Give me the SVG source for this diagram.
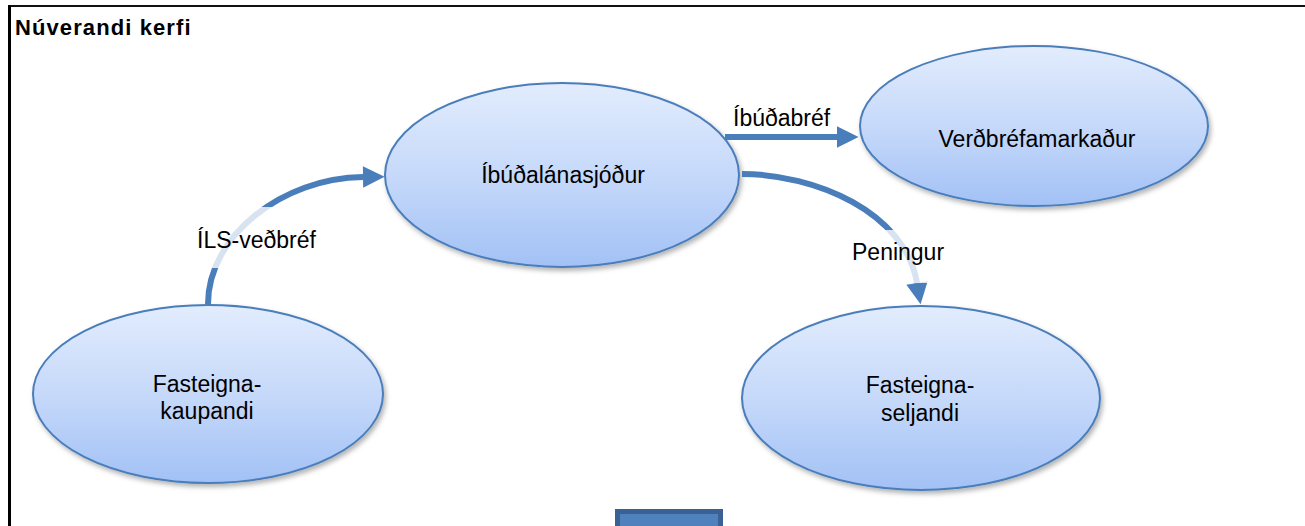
<svg xmlns="http://www.w3.org/2000/svg" width="1305" height="526" viewBox="0 0 1305 526">
  <style>
    .node { fill: url(#nodeGrad); stroke: #4a7ebb; stroke-width: 2; filter: url(#shadow); }
    .label { font-family: "Liberation Sans", Arial, sans-serif; font-size: 23px; fill: #000; text-anchor: middle; }
    .elabel { font-family: "Liberation Sans", Arial, sans-serif; font-size: 23px; fill: #000; }
    .title { font-family: "Liberation Sans", Arial, sans-serif; font-size: 22px; font-weight: bold; letter-spacing: 1.1px; fill: #000; }
    .conn { fill: none; stroke: #4a7ebb; stroke-width: 6; }
    .fade { fill: #ffffff; fill-opacity: 0.78; }
  </style>
  <defs>
    <linearGradient id="nodeGrad" x1="0" y1="0" x2="0" y2="1">
      <stop offset="0" stop-color="#e2ecfd"/>
      <stop offset="0.5" stop-color="#c6d9fa"/>
      <stop offset="1" stop-color="#a2c1f5"/>
    </linearGradient>
    <filter id="shadow" x="-10%" y="-10%" width="125%" height="130%">
      <feDropShadow dx="2" dy="3" stdDeviation="2.5" flood-color="#000" flood-opacity="0.3"/>
    </filter>
    <marker id="arrow" viewBox="0 0 10 10" refX="0" refY="5" markerWidth="4" markerHeight="3.6" orient="auto" markerUnits="strokeWidth">
      <path d="M0,0 L10,5 L0,10 Z" fill="#4a7ebb"/>
    </marker>
  </defs>

  <rect x="0" y="0" width="1305" height="526" fill="#ffffff"/>

  <!-- frame -->
  <g id="frame">
    <line x1="8" y1="6" x2="1305" y2="6" stroke="#111" stroke-width="2"/>
    <line x1="9.5" y1="5" x2="9.5" y2="526" stroke="#000" stroke-width="3"/>
    <text class="title" x="15" y="35">Núverandi kerfi</text>
  </g>

  <!-- nodes -->
  <g id="node-ibudalanasjodur">
    <ellipse class="node" cx="562" cy="175" rx="177" ry="92"/>
    <text class="label" x="563" y="183">Íbúðalánasjóður</text>
  </g>
  <g id="node-verdbrefamarkadur">
    <ellipse class="node" cx="1034" cy="126" rx="174" ry="80"/>
    <text class="label" x="1037" y="147">Verðbréfamarkaður</text>
  </g>
  <g id="node-fasteignakaupandi">
    <ellipse class="node" cx="208" cy="394" rx="175" ry="89"/>
    <text class="label" x="207" y="392">Fasteigna-</text>
    <text class="label" x="207" y="419">kaupandi</text>
  </g>
  <g id="node-fasteignaseljandi">
    <ellipse class="node" cx="921" cy="398" rx="179" ry="92"/>
    <text class="label" x="920" y="393">Fasteigna-</text>
    <text class="label" x="920" y="421">seljandi</text>
  </g>
  <g id="node-box">
    <rect x="617.5" y="511.5" width="103" height="30" fill="#4f81bd" stroke="#3a6094" stroke-width="5"/>
  </g>

  <!-- connectors -->
  <g id="connectors">
    <path class="conn" d="M208,304 C208,236 282,178 363,177" marker-end="url(#arrow)"/>
    <rect class="fade" x="196" y="207" width="122" height="61"/>
    <text class="elabel" x="197" y="248">ÍLS-veðbréf</text>

    <path class="conn" d="M725,137 L837,137" marker-end="url(#arrow)"/>
    <text class="elabel" x="733" y="126">Íbúðabréf</text>

    <path class="conn" d="M742,174 C815,174 905,212 917,283" marker-end="url(#arrow)"/>
    <rect class="fade" x="846" y="230" width="102" height="53"/>
    <text class="elabel" x="852" y="260">Peningur</text>
  </g>
</svg>
